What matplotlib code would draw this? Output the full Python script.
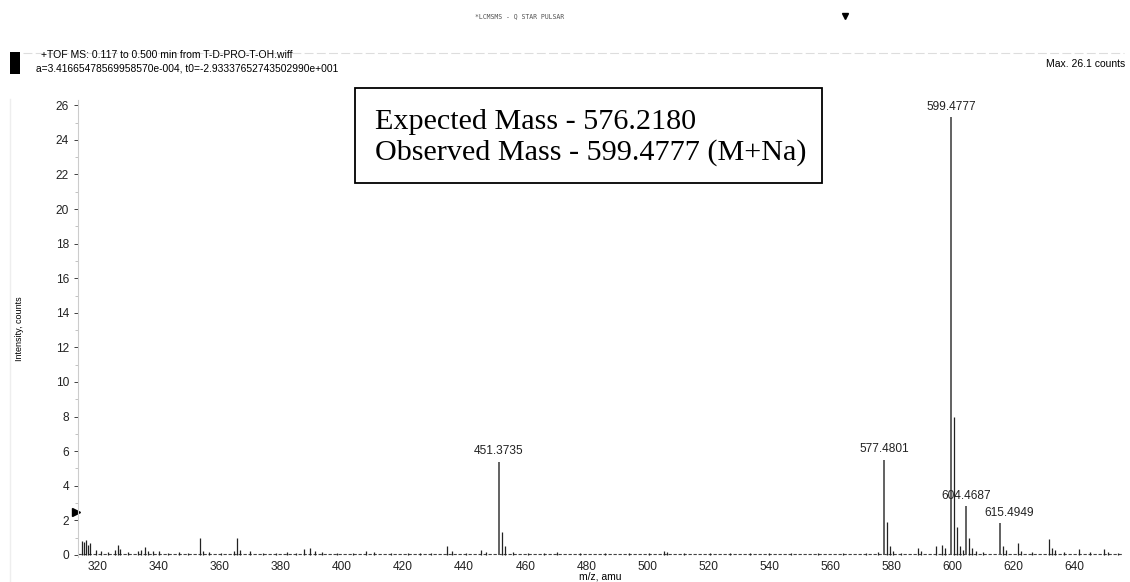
import numpy as np
import matplotlib.pyplot as plt

# main labelled peaks (m/z, intensity)
label_mz = [451.3735, 577.4801, 599.4777, 604.4687, 615.4949]
label_int = [5.4, 5.5, 25.3, 2.8, 1.85]

# other visible peaks
minor_mz = [314.8, 315.5, 316.2, 316.8, 317.5, 319.5, 321.0, 323.5, 325.5, 326.5, 327.3,
            330.0, 333.0, 334.0, 335.5, 336.5, 338.0, 340.0, 343.0, 346.5, 349.5,
            353.5, 354.5, 356.5, 360.5, 364.5, 365.5, 366.5, 369.8, 374.0, 378.5,
            382.0, 385.0, 387.5, 389.5, 391.0, 393.5, 398.5, 403.5, 407.8, 410.5,
            416.0, 421.5, 425.5, 429.0, 434.5, 436.0, 440.5, 445.5, 447.0,
            452.4, 453.4, 456.0, 461.0, 466.0, 470.5, 478.0, 486.0, 494.0, 500.5,
            505.5, 506.5, 512.0, 520.5, 527.0, 533.5, 540.0, 547.0, 556.0, 564.0,
            571.5, 575.5, 578.5, 579.5, 580.5, 583.0, 588.5, 589.5, 594.5, 596.5,
            597.5, 600.48, 601.5, 602.5, 603.5, 605.4, 606.4, 607.5, 610.0, 616.5,
            617.5, 621.5, 622.5, 626.0, 631.5, 632.5, 633.5, 636.5, 641.5, 645.0,
            649.5, 651.0, 654.0]
minor_int = [0.8, 0.75, 0.85, 0.6, 0.7, 0.3, 0.2, 0.15, 0.3, 0.6, 0.35,
             0.15, 0.25, 0.3, 0.45, 0.2, 0.2, 0.25, 0.12, 0.15, 0.12,
             1.0, 0.25, 0.15, 0.12, 0.2, 0.95, 0.3, 0.2, 0.12, 0.1,
             0.15, 0.12, 0.35, 0.4, 0.2, 0.15, 0.12, 0.1, 0.25, 0.15,
             0.1, 0.12, 0.12, 0.1, 0.5, 0.2, 0.12, 0.3, 0.15,
             1.3, 0.5, 0.15, 0.12, 0.12, 0.15, 0.12, 0.1, 0.1, 0.1,
             0.25, 0.15, 0.12, 0.1, 0.12, 0.1, 0.1, 0.1, 0.1, 0.1,
             0.1, 0.15, 1.9, 0.5, 0.25, 0.12, 0.4, 0.2, 0.5, 0.6,
             0.4, 8.0, 1.6, 0.5, 0.3, 1.0, 0.4, 0.2, 0.15, 0.5,
             0.3, 0.7, 0.25, 0.15, 0.9, 0.4, 0.3, 0.15, 0.35, 0.15,
             0.35, 0.15, 0.1]

xticks = list(range(320, 641, 20))
yticks = list(range(0, 27, 2))

fig = plt.figure(figsize=(11.3, 5.82), dpi=100)
ax = fig.add_axes([0.069, 0.043, 0.924, 0.785])

# baseline
ax.plot([313.5, 655.5], [0.06, 0.06], color='#444444', lw=0.8, ls=(0, (3, 1.5)))
ax.vlines(minor_mz, 0, minor_int, color='#222222', lw=0.9)
ax.vlines(label_mz, 0, label_int, color='#555555', lw=1.3)

for mz, h in zip(label_mz, label_int):
    dx = 3.0 if mz > 610 else 0
    ax.text(mz + dx, h + 0.25, f'{mz:.4f}', ha='center', va='bottom',
            fontsize=8.6, family='Liberation Sans', color='#222222')

ax.set_xlim(313.5, 655.5)
ax.set_ylim(-0.12, 26.3)
ax.set_xticks(xticks)
ax.set_yticks(yticks)
ax.set_yticks(np.arange(1, 26, 2), minor=True)
ax.tick_params(axis='both', labelsize=8.6, colors='#222222', length=3, width=0.6)
ax.tick_params(axis='y', which='minor', length=2, width=0.5, colors='#aaaaaa')
ax.tick_params(axis='x', length=0, pad=3)
for lab in ax.get_xticklabels() + ax.get_yticklabels():
    lab.set_family('Liberation Sans')
for s in ['top', 'right', 'bottom']:
    ax.spines[s].set_visible(False)
ax.spines['left'].set_color('#cccccc')
ax.spines['left'].set_linewidth(0.8)

ax.set_ylabel('Intensity, counts', fontsize=6.5, family='Liberation Sans')
ax.yaxis.set_label_coords(-0.052, 0.5)
ax.set_xlabel('m/z, amu', fontsize=7.5, family='Liberation Sans', labelpad=-1)

# marker on the y axis
ax.plot([313.0], [2.5], marker='>', color='black', ms=6, clip_on=False)

# annotation box
fig.patches.append(plt.Rectangle((0.3142, 0.6856), 0.4133, 0.1632, transform=fig.transFigure,
                                 fc='white', ec='black', lw=1.3, zorder=5))
fig.text(0.332, 0.764, 'Expected Mass - 576.2180\nObserved Mass - 599.4777 (M+Na)',
         family='Liberation Serif', fontsize=21.7, va='center', ha='left',
         linespacing=1.2, zorder=6)

# header
fig.text(0.036, 0.900, '+TOF MS: 0.117 to 0.500 min from T-D-PRO-T-OH.wiff',
         fontsize=7.5, family='Liberation Sans')
fig.text(0.032, 0.878, 'a=3.41665478569958570e-004, t0=-2.93337652743502990e+001',
         fontsize=7.4, family='Liberation Sans')
fig.text(0.996, 0.885, 'Max. 26.1 counts', fontsize=7.5, family='Liberation Sans',
         ha='right')
fig.text(0.42, 0.968, '*LCMSMS - Q STAR PULSAR', fontsize=4.7,
         family='DejaVu Sans Mono', color='#555555')
fig.patches.append(plt.Rectangle((0.009, 0.872), 0.009, 0.038, transform=fig.transFigure,
                                 fc='black', ec='none'))
fig.lines.append(plt.Line2D([0.02, 0.995], [0.909, 0.909], transform=fig.transFigure,
                            color='#dddddd', lw=0.8, ls=(0, (8, 3))))
fig.lines.append(plt.Line2D([0.009, 0.009], [0.0, 0.83], transform=fig.transFigure,
                            color='#eeeeee', lw=1.0))
fig.lines.append(plt.Line2D([0.748], [0.972], transform=fig.transFigure,
                            marker='v', color='black', ms=5))

fig.savefig('out.png', dpi=100)
